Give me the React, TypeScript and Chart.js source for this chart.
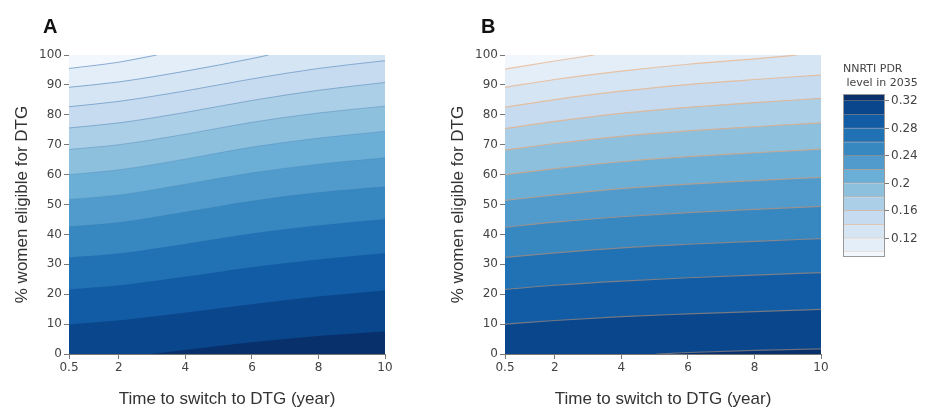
import React, { useEffect, useRef } from "react";
import { Chart, registerables } from "chart.js";
Chart.register(...registerables);

// ---------- data ----------
const xTicks = [0.5, 2, 4, 6, 8, 10];
const levels = [0.1, 0.12, 0.14, 0.16, 0.18, 0.2, 0.22, 0.24, 0.26, 0.28, 0.3, 0.32];

// Panel A contour lines, one per level, as [time, % women] pairs
const panelA: number[][][] = [
  [[0.5, 95.5], [2, 97.6], [3.14, 100]],
  [[0.5, 89.2], [2, 91.0], [4, 94.6], [6, 98.8], [6.5, 100]],
  [[0.5, 82.7], [2, 84.5], [4, 88.0], [6, 92.0], [8, 95.5], [10, 98.1]],
  [[0.5, 75.6], [2, 77.3], [4, 80.8], [6, 84.8], [8, 88.2], [10, 90.8]],
  [[0.5, 68.4], [2, 70.0], [4, 73.5], [6, 77.5], [8, 80.6], [10, 82.9]],
  [[0.5, 60.0], [2, 61.6], [4, 65.2], [6, 69.2], [8, 72.2], [10, 74.5]],
  [[0.5, 51.7], [2, 53.2], [4, 56.8], [6, 60.6], [8, 63.5], [10, 65.6]],
  [[0.5, 42.6], [2, 44.0], [4, 47.5], [6, 51.2], [8, 54.0], [10, 55.9]],
  [[0.5, 32.3], [2, 33.6], [4, 36.8], [6, 40.3], [8, 43.0], [10, 45.1]],
  [[0.5, 21.6], [2, 22.9], [4, 25.8], [6, 29.0], [8, 31.6], [10, 33.7]],
  [[0.5, 9.9], [2, 11.2], [4, 13.8], [6, 16.6], [8, 19.2], [10, 21.2]],
  [[3.0, 0], [4, 1.3], [6, 3.9], [8, 6.0], [10, 7.5]],
];

// Panel B contour lines
const panelB: number[][][] = [
  [[0.5, 95.3], [2, 98.0], [3.19, 100]],
  [[0.5, 89.2], [2, 91.8], [4, 94.6], [6, 96.9], [8, 98.7], [9.3, 100]],
  [[0.5, 82.5], [2, 85.1], [4, 87.9], [6, 90.1], [8, 91.8], [10, 93.3]],
  [[0.5, 75.4], [2, 77.8], [4, 80.5], [6, 82.5], [8, 84.1], [10, 85.5]],
  [[0.5, 68.2], [2, 70.4], [4, 72.8], [6, 74.6], [8, 76.0], [10, 77.3]],
  [[0.5, 60.0], [2, 62.0], [4, 64.3], [6, 66.0], [8, 67.3], [10, 68.5]],
  [[0.5, 51.4], [2, 53.2], [4, 55.3], [6, 56.8], [8, 58.0], [10, 59.1]],
  [[0.5, 42.4], [2, 44.1], [4, 45.9], [6, 47.3], [8, 48.4], [10, 49.4]],
  [[0.5, 32.3], [2, 33.8], [4, 35.5], [6, 36.7], [8, 37.7], [10, 38.6]],
  [[0.5, 21.6], [2, 23.0], [4, 24.4], [6, 25.5], [8, 26.4], [10, 27.2]],
  [[0.5, 10.0], [2, 11.2], [4, 12.5], [6, 13.4], [8, 14.2], [10, 14.9]],
  [[5.05, 0], [6, 0.5], [8, 1.2], [10, 1.7]],
];

// colour bar
const cbMin = 0.093;
const cbMax = 0.33;
const cbTicks = [0.12, 0.16, 0.2, 0.24, 0.28, 0.32];

// ---------- styles ----------
const bandColors = [
  "rgb(242,247,253)",
  "rgb(228,238,249)",
  "rgb(213,229,244)",
  "rgb(198,219,239)",
  "rgb(171,207,230)",
  "rgb(141,192,221)",
  "rgb(107,174,214)",
  "rgb(80,155,203)",
  "rgb(55,135,192)",
  "rgb(33,113,181)",
  "rgb(18,92,165)",
  "rgb(10,70,140)",
  "rgb(8,48,107)",
];
const lineColorsA = [
  "rgba(70,125,180,0.6)",
  "rgba(70,125,180,0.6)",
  "rgba(70,125,180,0.55)",
  "rgba(70,125,180,0.5)",
  "rgba(70,125,180,0.4)",
  "rgba(70,125,180,0.3)",
  "rgba(60,120,175,0.2)",
  "rgba(50,110,170,0.15)",
  "rgba(40,100,160,0.1)",
  "rgba(30,90,150,0.1)",
  "rgba(20,70,130,0.1)",
  "rgba(10,50,110,0.1)",
];
const lineColorsB = [
  "#eac4a7",
  "#e7c1a3",
  "#e3bea0",
  "#dbb89e",
  "#d0b19b",
  "#c1a998",
  "#ac9f96",
  "#979191",
  "#86878c",
  "#7b7f87",
  "#747983",
  "#6a7080",
];

const tickFont = { family: "'DejaVu Sans', Verdana, sans-serif", size: 12 };
const titleFont = { family: "'Liberation Sans', Arial, sans-serif", size: 17 };

const bgPlugin = {
  id: "plotBg",
  beforeDatasetsDraw(chart: any) {
    const { ctx, chartArea } = chart;
    ctx.save();
    ctx.fillStyle = bandColors[0];
    ctx.fillRect(chartArea.left, chartArea.top, chartArea.right - chartArea.left, chartArea.bottom - chartArea.top);
    ctx.restore();
  },
};

function contourConfig(lines: number[][][], lineColors: string[], lw: number): any {
  const xMax = xTicks[xTicks.length - 1];
  const yMax = 100;
  const n = lines.length;
  const fills = lines.map((pts, i) => {
    const data = pts.map(([x, y]) => ({ x, y }));
    const last = data[data.length - 1];
    if (last.y >= yMax && last.x < xMax) data.push({ x: xMax, y: yMax });
    return {
      label: "band " + levels[i],
      data,
      order: 100 + n - i,
      borderWidth: 0,
      borderColor: "rgba(0,0,0,0)",
      pointRadius: 0,
      cubicInterpolationMode: "monotone",
      fill: "start",
      backgroundColor: bandColors[i + 1],
    };
  });
  const contourLines = lines.map((pts, i) => ({
    label: String(levels[i]),
    data: pts.map(([x, y]) => ({ x, y })),
    order: n - i,
    borderColor: lineColors[i],
    borderWidth: lw,
    pointRadius: 0,
    cubicInterpolationMode: "monotone",
    fill: false,
  }));
  return {
    type: "line",
    data: { datasets: [...fills, ...contourLines] },
    plugins: [bgPlugin],
    options: {
      responsive: false,
      animation: false,
      events: [],
      layout: { padding: { top: 55, right: 15, left: 0, bottom: 0 } },
      plugins: { legend: { display: false }, tooltip: { enabled: false } },
      scales: {
        x: {
          type: "linear",
          min: 0.5,
          max: 10,
          afterBuildTicks: (s: any) => {
            s.ticks = xTicks.map((v) => ({ value: v }));
          },
          afterFit: (s: any) => {
            s.height = 56;
          },
          ticks: { font: tickFont, color: "#444", padding: 2, maxRotation: 0, callback: (v: any) => String(v) },
          grid: { drawOnChartArea: false, drawTicks: true, tickLength: 5, color: "#777" },
          border: { display: true, color: "#777" },
          title: {
            display: true,
            text: "Time to switch to DTG (year)",
            font: titleFont,
            color: "#333",
            padding: { top: 0, bottom: 0 },
          },
        },
        y: {
          type: "linear",
          min: 0,
          max: 100,
          afterFit: (s: any) => {
            s.width = 69;
          },
          ticks: { stepSize: 10, font: tickFont, color: "#444", padding: 2 },
          grid: { drawOnChartArea: false, drawTicks: true, tickLength: 5, color: "#777" },
          border: { display: true, color: "#777" },
          title: {
            display: true,
            text: "% women eligible for DTG",
            font: titleFont,
            color: "#333",
            padding: { top: 12, bottom: 0 },
          },
        },
      },
    },
  };
}

const outlinePlugin = {
  id: "cbOutline",
  afterDatasetsDraw(chart: any) {
    const { ctx, chartArea } = chart;
    ctx.save();
    ctx.strokeStyle = "#999";
    ctx.lineWidth = 1;
    ctx.strokeRect(
      chartArea.left + 0.5,
      chartArea.top + 0.5,
      chartArea.right - chartArea.left - 1,
      chartArea.bottom - chartArea.top - 1
    );
    ctx.restore();
  },
};

function colorbarConfig(): any {
  const bounds = [cbMin, ...levels, cbMax];
  const datasets = bandColors.map((c, k) => ({
    label: "band" + k,
    data: [[bounds[k], bounds[k + 1]]],
    backgroundColor: c,
    // bottom edge of band k is the contour line at level k-1
    borderColor: k > 0 ? lineColorsB[k - 1] : c,
    borderWidth: k > 0 ? { top: 0, bottom: 1, left: 0, right: 0 } : 0,
    borderSkipped: false,
    barPercentage: 1,
    categoryPercentage: 1,
    grouped: false,
  }));
  return {
    type: "bar",
    data: { labels: [""], datasets },
    plugins: [outlinePlugin],
    options: {
      responsive: false,
      animation: false,
      events: [],
      layout: { padding: { left: 7, top: 0, right: 0, bottom: 153 } },
      plugins: {
        legend: { display: false },
        tooltip: { enabled: false },
        title: {
          display: true,
          text: ["NNRTI PDR", " level in 2035"],
          align: "start",
          color: "#444",
          font: { family: "'DejaVu Sans', Verdana, sans-serif", size: 11, lineHeight: 1.3, weight: "normal" },
          padding: { top: 62, bottom: 3.4 },
        },
      },
      scales: {
        x: { display: false, stacked: false },
        y: {
          position: "right",
          min: cbMin,
          max: cbMax,
          afterBuildTicks: (s: any) => {
            s.ticks = cbTicks.map((v) => ({ value: v }));
          },
          afterFit: (s: any) => {
            s.width = 43;
          },
          ticks: { font: tickFont, color: "#444", padding: 2, callback: (v: any) => String(v) },
          grid: { drawOnChartArea: false, drawTicks: true, tickLength: 4, color: "#777" },
          border: { display: false },
        },
      },
    },
  };
}

export default function App() {
  const aRef = useRef<HTMLCanvasElement>(null);
  const bRef = useRef<HTMLCanvasElement>(null);
  const cRef = useRef<HTMLCanvasElement>(null);

  useEffect(() => {
    const charts = [
      new Chart(aRef.current as HTMLCanvasElement, contourConfig(panelA, lineColorsA, 1)),
      new Chart(bRef.current as HTMLCanvasElement, contourConfig(panelB, lineColorsB, 1.2)),
      new Chart(cRef.current as HTMLCanvasElement, colorbarConfig()),
    ];
    return () => charts.forEach((c) => c.destroy());
  }, []);

  const labelStyle: React.CSSProperties = {
    position: "absolute",
    top: 16,
    font: "bold 20px 'Liberation Sans', Arial, sans-serif",
    lineHeight: "20px",
    color: "#111",
  };

  return (
    <div style={{ position: "absolute", left: 0, top: 0, width: 928, height: 410, background: "#fff", overflow: "hidden" }}>
      <canvas ref={aRef} width={400} height={410} style={{ position: "absolute", left: 0, top: 0, width: 400, height: 410 }} />
      <canvas ref={bRef} width={400} height={410} style={{ position: "absolute", left: 436, top: 0, width: 400, height: 410 }} />
      <canvas ref={cRef} width={92} height={410} style={{ position: "absolute", left: 836, top: 0, width: 92, height: 410 }} />
      <div style={{ ...labelStyle, left: 43 }}>A</div>
      <div style={{ ...labelStyle, left: 481 }}>B</div>
    </div>
  );
}
